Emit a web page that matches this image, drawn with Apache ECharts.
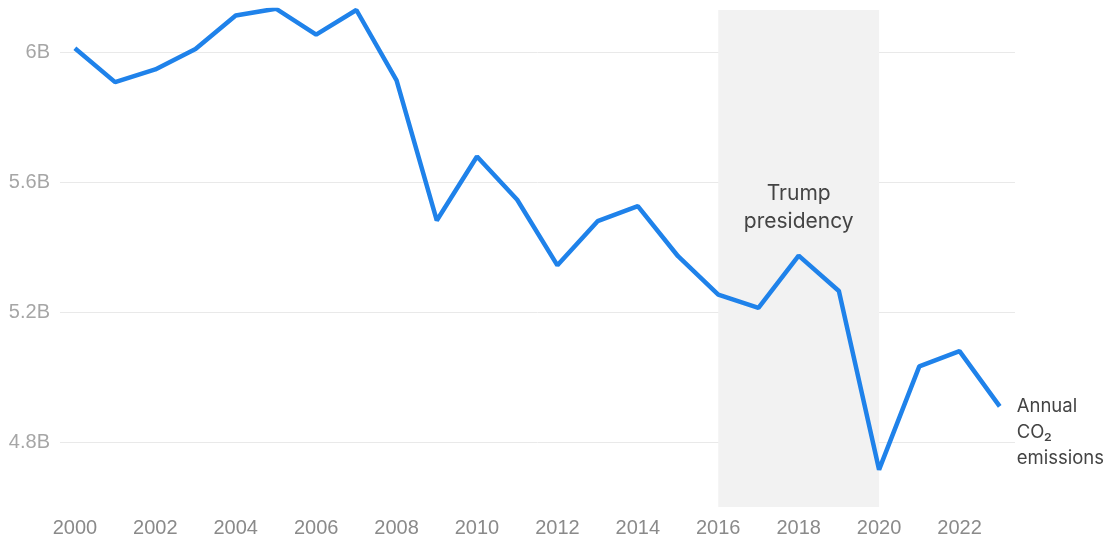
<!DOCTYPE html>
<html>
<head>
<meta charset="utf-8">
<script src="https://cdn.jsdelivr.net/npm/echarts@6/dist/echarts.min.js"></script>
<style>
  html, body { margin: 0; padding: 0; background: #fff; }
  #chart { width: 1107px; height: 539px; }
</style>
</head>
<body>
<div id="chart"></div>
<script>
// years and annual US CO2 emissions (billion tonnes)
var years = [2000, 2001, 2002, 2003, 2004, 2005, 2006, 2007, 2008, 2009, 2010, 2011,
             2012, 2013, 2014, 2015, 2016, 2017, 2018, 2019, 2020, 2021, 2022, 2023];
var emissions = [6.012, 5.908, 5.947, 6.010, 6.113, 6.134, 6.054, 6.130, 5.913, 5.482, 5.679, 5.546,
                 5.344, 5.480, 5.526, 5.372, 5.254, 5.213, 5.374, 5.265, 4.715, 5.033, 5.080, 4.910];
var yearTicks = [2000, 2002, 2004, 2006, 2008, 2010, 2012, 2014, 2016, 2018, 2020, 2022];
var valueTicks = [4.8, 5.2, 5.6, 6.0];
var presidency = [2016, 2020];

var chart = echarts.init(document.getElementById('chart'));

var points = years.map(function (y, i) { return [y, emissions[i]]; });

chart.setOption({
    animation: false,
    grid: { left: 60, right: 92, top: 10, bottom: 32 },
    xAxis: {
        type: 'value',
        min: 1999.63,
        max: 2023.38,
        axisLine: { show: false },
        axisTick: { show: false },
        splitLine: { show: false },
        axisLabel: {
            customValues: yearTicks,
            color: '#8a8a8a',
            fontSize: 20,
            fontFamily: 'Liberation Sans',
            margin: 11,
            formatter: function (v) { return String(v); }
        }
    },
    yAxis: {
        type: 'value',
        min: 4.6,
        max: 6.13,
        axisLine: { show: false },
        axisTick: { show: false, customValues: valueTicks },
        splitLine: { show: true, lineStyle: { color: '#e9e9e9', width: 1 } },
        axisLabel: {
            customValues: valueTicks,
            color: '#a6a6a6',
            fontSize: 20,
            fontFamily: 'Liberation Sans',
            margin: 10,
            formatter: function (v) { return (+v.toFixed(1)) + 'B'; }
        }
    },
    series: [{
        type: 'line',
        data: points,
        symbol: 'none',
        lineStyle: { color: '#1f82ea', width: 4.5 },
        endLabel: {
            show: true,
            formatter: 'Annual\nCO₂\nemissions',
            color: '#444',
            fontSize: 18.5,
            fontFamily: 'Inter',
            lineHeight: 26,
            align: 'left',
            offset: [9, 26]
        },
        markArea: {
            silent: true,
            itemStyle: { color: '#f2f2f2' },
            label: {
                show: true,
                position: 'insideTop',
                distance: 170,
                formatter: 'Trump\npresidency',
                color: '#444',
                fontSize: 21,
                fontFamily: 'Inter',
                lineHeight: 28,
                align: 'center'
            },
            data: [[{ xAxis: presidency[0] }, { xAxis: presidency[1] }]]
        },
        z: 3
    }]
});
</script>
</body>
</html>
